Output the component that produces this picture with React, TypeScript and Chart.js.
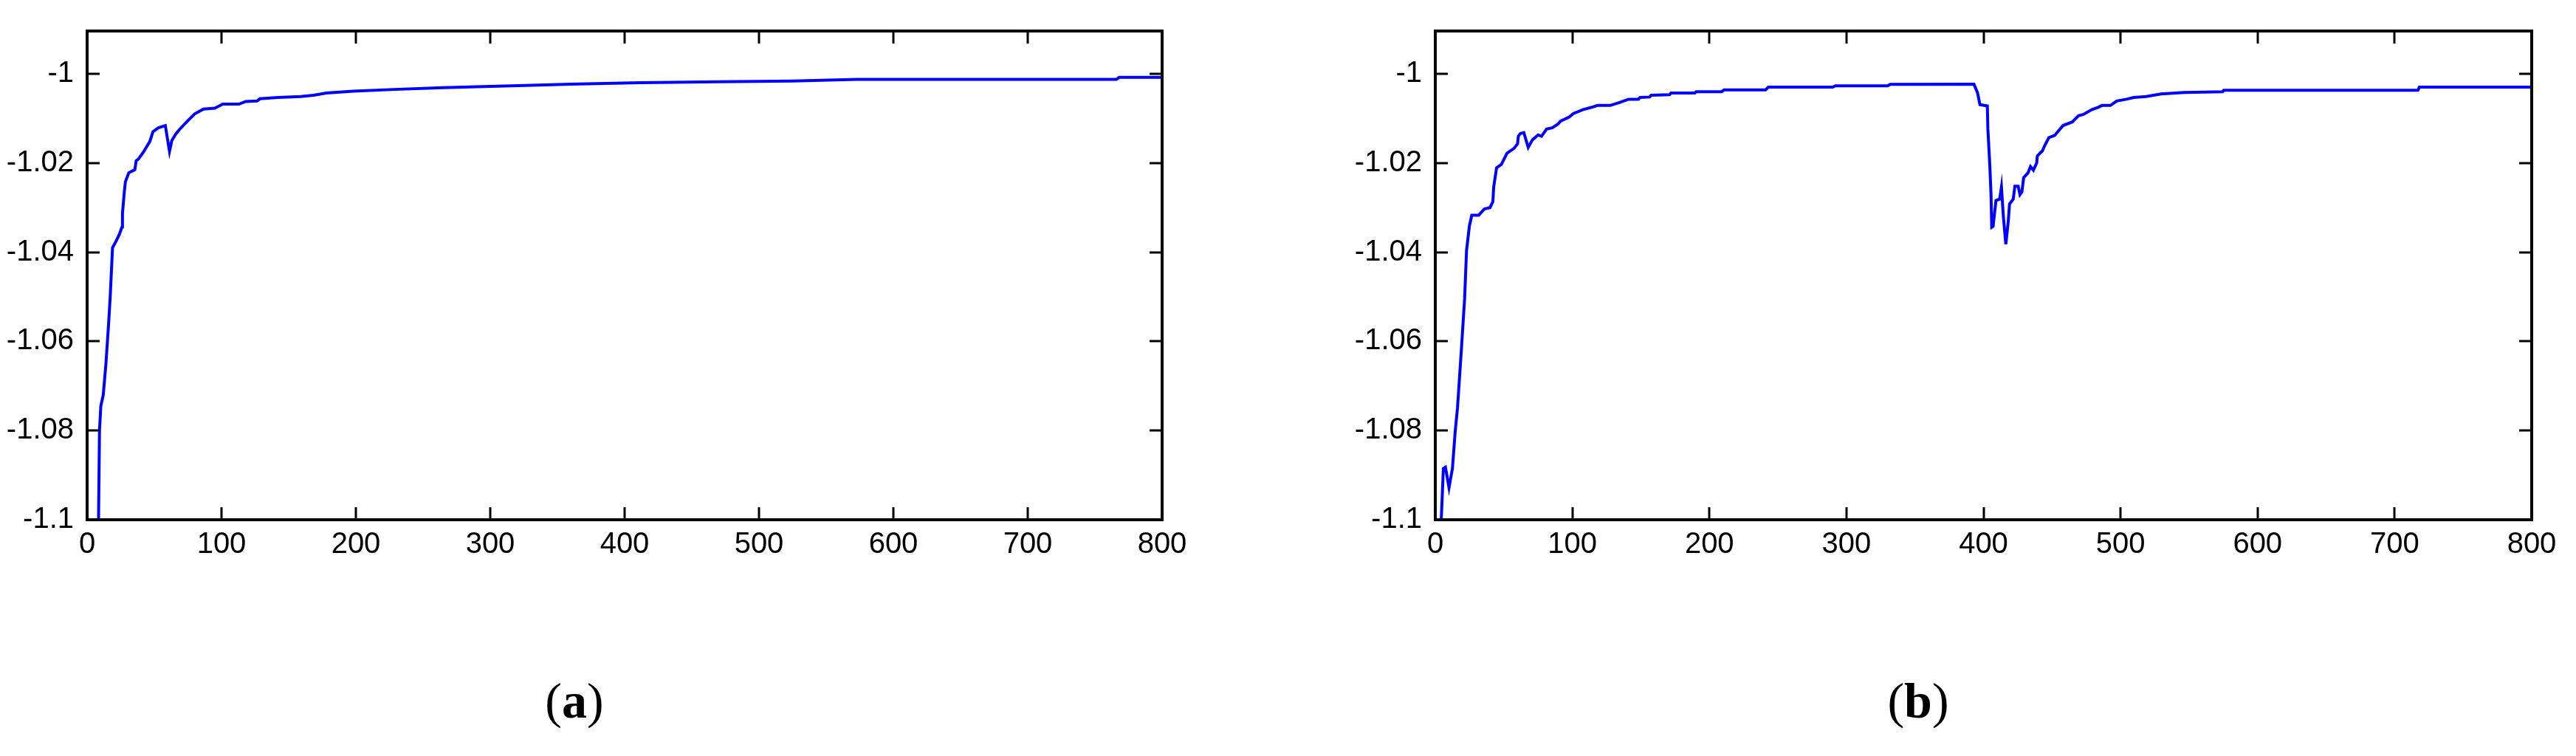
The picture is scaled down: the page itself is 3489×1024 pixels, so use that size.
import React, { useEffect, useRef } from "react";
import { Chart, registerables } from "chart.js";

Chart.register(...registerables);

// ---------- data ----------
const xTicks = [0, 100, 200, 300, 400, 500, 600, 700, 800];
const yTicks = [-1.1, -1.08, -1.06, -1.04, -1.02, -1];

const seriesAX = [8.3, 8.5, 9.2, 10.2, 12, 14, 16, 17.2, 18.9, 21.4, 24, 26, 26.3, 27.7, 28.5, 31, 35.5, 36.5, 38.2, 42, 46.6, 49, 53, 58.2, 61.3, 63, 66, 68.7, 75, 80, 86.6, 95, 101, 113, 118, 126.5, 128.6, 142, 159, 168.6, 178, 198, 228.5, 265, 290, 326, 360, 412, 470, 525, 573, 766, 768, 800];
const seriesAY = [-1.12, -1.1, -1.08, -1.0745, -1.072, -1.065, -1.056, -1.0499, -1.039, -1.0376, -1.036, -1.0343, -1.0313, -1.0264, -1.0242, -1.0222, -1.0215, -1.0195, -1.0191, -1.0175, -1.0152, -1.013, -1.0121, -1.0116, -1.0174, -1.015, -1.0135, -1.0125, -1.0105, -1.009, -1.0079, -1.0077, -1.0068, -1.0068, -1.0062, -1.0061, -1.0056, -1.0053, -1.0051, -1.0048, -1.0043, -1.0039, -1.0035, -1.0031, -1.0029, -1.0026, -1.0023, -1.002, -1.0018, -1.0016, -1.00125, -1.00125, -1.0008, -1.0008];

const seriesBX = [3.5, 4.3, 5.9, 7.4, 10, 12.5, 14.5, 16.2, 19, 21.4, 22.8, 24.9, 26.6, 31.7, 35.8, 39.9, 42, 42.6, 44.7, 48.2, 52.3, 57.5, 60, 60.6, 62, 64.6, 67.8, 70.9, 75, 77.5, 81.2, 85.3, 89.4, 91.5, 97.7, 100.8, 108, 114.2, 118.3, 127.6, 134.8, 141, 148.2, 149.3, 156.4, 157.5, 170.9, 172, 189.4, 190.4, 209, 210.7, 241, 243, 290, 292, 330, 332, 393, 395.6, 397.4, 402.8, 403.2, 404.6, 405.5, 406, 407, 409.1, 411.8, 413.1, 414.5, 416.3, 418.1, 419, 421.7, 422.9, 425.3, 426.6, 428, 429.3, 432.5, 434.3, 436.4, 438.8, 439.3, 442.9, 445, 447.7, 452, 458, 464.8, 469.3, 472.9, 479.2, 483.7, 486.4, 492.6, 497.2, 504.3, 509.7, 518.7, 529.5, 546.5, 574.4, 575.3, 717, 718, 800];
const seriesBY = [-1.12, -1.1004, -1.0885, -1.0882, -1.0928, -1.0885, -1.0803, -1.0749, -1.062, -1.0504, -1.0396, -1.0341, -1.0317, -1.0317, -1.0303, -1.03, -1.0287, -1.0254, -1.0211, -1.0203, -1.0178, -1.0167, -1.0157, -1.014, -1.0134, -1.0132, -1.0165, -1.0148, -1.0137, -1.014, -1.0124, -1.0121, -1.0113, -1.0106, -1.0097, -1.0089, -1.008, -1.0075, -1.0071, -1.0071, -1.0064, -1.0057, -1.0057, -1.0053, -1.0052, -1.0048, -1.0047, -1.0043, -1.0043, -1.004, -1.004, -1.0036, -1.0036, -1.003, -1.003, -1.0027, -1.0027, -1.00235, -1.00233, -1.0042, -1.0069, -1.0072, -1.0124, -1.0205, -1.0271, -1.0344, -1.0342, -1.0284, -1.0281, -1.0254, -1.032, -1.0382, -1.033, -1.0292, -1.0281, -1.0252, -1.0252, -1.0271, -1.0265, -1.0233, -1.0222, -1.0208, -1.0216, -1.02, -1.0184, -1.0173, -1.0159, -1.0143, -1.0138, -1.0116, -1.0108, -1.0094, -1.0091, -1.008, -1.0075, -1.0071, -1.0071, -1.0061, -1.0057, -1.0053, -1.0051, -1.0045, -1.0042, -1.004, -1.0037, -1.0037, -1.003, -1.003];

const xMin = 0;
const xMax = 800;
const yMin = -1.1;
const yMaxA = -0.9904;
const yMaxB = -0.9904;

// ---------- frame + inward ticks (MATLAB style) ----------
const framePlugin = {
  id: "matlabFrame",
  afterDatasetsDraw(chart: any) {
    const { ctx, chartArea, scales } = chart;
    const { left, right, top, bottom } = chartArea;
    const x = scales.x;
    const y = scales.y;
    const tl = 17;
    ctx.save();
    ctx.strokeStyle = "#000";
    ctx.lineWidth = 3;
    ctx.beginPath();
    x.ticks.forEach((t: any) => {
      const px = Math.round(x.getPixelForValue(t.value));
      ctx.moveTo(px, bottom);
      ctx.lineTo(px, bottom - tl);
      ctx.moveTo(px, top);
      ctx.lineTo(px, top + tl);
    });
    y.ticks.forEach((t: any) => {
      const py = Math.round(y.getPixelForValue(t.value));
      ctx.moveTo(left, py);
      ctx.lineTo(left + tl, py);
      ctx.moveTo(right, py);
      ctx.lineTo(right - tl, py);
    });
    ctx.stroke();
    ctx.lineWidth = 4;
    ctx.strokeRect(left, top, right - left, bottom - top);
    ctx.restore();
  },
};

type PanelProps = {
  xs: number[];
  ys: number[];
  yMax: number;
  left: number;
  width: number;
  height: number;
  padTop: number;
  padRight: number;
  yAxisWidth: number;
  xAxisHeight: number;
};

function Panel(props: PanelProps) {
  const ref = useRef<HTMLCanvasElement | null>(null);
  useEffect(() => {
    if (!ref.current) return;
    const points = props.xs.map((v, i) => ({ x: v, y: props.ys[i] }));
    const font = { family: "'Liberation Sans', Arial, sans-serif", size: 40 };
    const chart = new Chart(ref.current, {
      type: "line",
      data: {
        datasets: [
          {
            data: points,
            borderColor: "#0000ff",
            borderWidth: 4,
            pointRadius: 0,
            tension: 0,
            fill: false,
          },
        ],
      },
      options: {
        animation: false,
        responsive: false,
        maintainAspectRatio: false,
        events: [],
        layout: {
          padding: {
            left: 0,
            top: props.padTop,
            right: props.padRight,
            bottom: props.height - 704 - props.xAxisHeight,
          },
        },
        plugins: {
          legend: { display: false },
          tooltip: { enabled: false },
        },
        scales: {
          x: {
            type: "linear",
            min: xMin,
            max: xMax,
            grid: { display: false, drawTicks: false },
            border: { display: false },
            afterBuildTicks: (s: any) => {
              s.ticks = xTicks.map((v) => ({ value: v }));
            },
            afterFit: (s: any) => {
              s.height = props.xAxisHeight;
            },
            ticks: {
              color: "#000",
              font,
              padding: 10,
              maxRotation: 0,
              autoSkip: false,
              callback: (v: any) => String(v),
            },
          },
          y: {
            type: "linear",
            min: yMin,
            max: props.yMax,
            grid: { display: false, drawTicks: false },
            border: { display: false },
            afterBuildTicks: (s: any) => {
              s.ticks = yTicks.map((v) => ({ value: v }));
            },
            afterFit: (s: any) => {
              s.width = props.yAxisWidth;
            },
            ticks: {
              color: "#000",
              font,
              padding: 18,
              autoSkip: false,
              callback: (v: any) => String(Number(Number(v).toFixed(2))),
            },
          },
        },
      },
      plugins: [framePlugin],
    } as any);
    return () => chart.destroy();
  }, []);
  return (
    <canvas
      ref={ref}
      width={props.width}
      height={props.height}
      style={{
        position: "absolute",
        left: props.left,
        top: 0,
        width: props.width,
        height: props.height,
      }}
    />
  );
}

const captionStyle: React.CSSProperties = {
  position: "absolute",
  top: 909,
  fontFamily: "'Liberation Serif', 'Times New Roman', serif",
  fontSize: 68,
  lineHeight: "80px",
  color: "#000",
  transform: "translateX(-50%)",
  whiteSpace: "nowrap",
};

export default function App() {
  return (
    <div
      style={{
        position: "absolute",
        left: 0,
        top: 0,
        width: 3489,
        height: 1024,
        background: "#fff",
        overflow: "hidden",
      }}
    >
      <Panel
        xs={seriesAX}
        ys={seriesAY}
        yMax={yMaxA}
        left={0}
        width={1660}
        height={820}
        padTop={37}
        padRight={1660 - 1574}
        yAxisWidth={118}
        xAxisHeight={60}
      />
      <Panel
        xs={seriesBX}
        ys={seriesBY}
        yMax={yMaxB}
        left={1820}
        width={1669}
        height={820}
        padTop={32}
        padRight={1669 - (3429 - 1820)}
        yAxisWidth={124}
        xAxisHeight={60}
      />
      <div style={{ ...captionStyle, left: 778 }}>
        (<b>a</b>)
      </div>
      <div style={{ ...captionStyle, left: 2598 }}>
        (<b>b</b>)
      </div>
    </div>
  );
}
